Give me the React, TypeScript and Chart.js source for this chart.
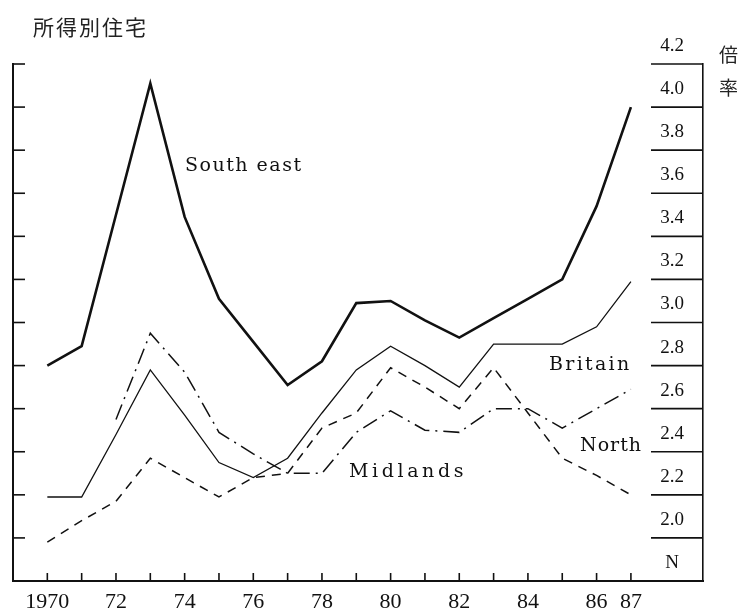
import React, { useEffect, useRef } from 'react';
import { Chart, registerables } from 'chart.js';

Chart.register(...registerables);

// ---- data ----
const years = [1970, 1971, 1972, 1973, 1974, 1975, 1976, 1977, 1978, 1979, 1980, 1981, 1982, 1983, 1984, 1985, 1986, 1987];
const xTickLabels = ['1970', '', '72', '', '74', '', '76', '', '78', '', '80', '', '82', '', '84', '', '86', '87'];
const rightTickLabels = ['N', '2.0', '2.2', '2.4', '2.6', '2.8', '3.0', '3.2', '3.4', '3.6', '3.8', '4.0', '4.2'];

const southEast = [2.80, 2.89, 3.50, 4.11, 3.49, 3.11, 2.91, 2.71, 2.82, 3.09, 3.10, 3.01, 2.93, 3.02, 3.11, 3.20, 3.54, 4.00];
const britain = [2.19, 2.19, 2.48, 2.78, 2.57, 2.35, 2.28, 2.37, 2.58, 2.78, 2.89, 2.80, 2.70, 2.90, 2.90, 2.90, 2.98, 3.19];
const north = [1.98, 2.08, 2.17, 2.37, 2.28, 2.19, 2.28, 2.30, 2.51, 2.58, 2.79, 2.70, 2.60, 2.79, 2.58, 2.37, 2.29, 2.20];
const midlands = [null, null, 2.55, 2.95, 2.77, 2.49, 2.39, 2.30, 2.30, 2.49, 2.59, 2.50, 2.49, 2.60, 2.60, 2.51, 2.60, 2.69];

const INK = '#111';

const toPoints = (vals: (number | null)[]) => years.map((yr, i) => ({ x: yr, y: vals[i] }));

const axisDecor = {
  id: 'axisDecor',
  afterDraw(chart: any) {
    const { ctx, chartArea, scales } = chart;
    const xs = scales.x;
    const yl = scales.y;
    const yr = scales.y2;
    ctx.save();
    ctx.strokeStyle = INK;
    ctx.lineWidth = 1.6;
    const seg = (x1: number, y1: number, x2: number, y2: number) => {
      ctx.beginPath();
      ctx.moveTo(x1, y1);
      ctx.lineTo(x2, y2);
      ctx.stroke();
    };
    yl.ticks.forEach((t: any) => {
      if (t.value > yl.min + 1e-6) {
        const py = yl.getPixelForValue(t.value);
        seg(chartArea.left, py, chartArea.left + 12, py);
      }
    });
    ctx.fillStyle = INK;
    ctx.font = '19px "Liberation Serif", serif';
    ctx.textAlign = 'center';
    ctx.textBaseline = 'middle';
    yr.ticks.forEach((t: any, i: number) => {
      const py = yr.getPixelForValue(t.value);
      if (t.value > yr.min + 1e-6) {
        seg(chartArea.right - 52, py, chartArea.right, py);
      }
      ctx.fillText(rightTickLabels[i] ?? '', chartArea.right - 31, py - 18);
    });
    xs.ticks.forEach((t: any) => {
      const px = xs.getPixelForValue(t.value);
      seg(px, chartArea.bottom, px, chartArea.bottom - 8);
    });
    ctx.restore();
  },
};

const labelStyle = (left: number, cy: number, spacing: number): React.CSSProperties => ({
  position: 'absolute',
  left,
  top: cy - 12,
  height: 24,
  lineHeight: '24px',
  fontFamily: '"DejaVu Serif", serif',
  fontSize: 19,
  letterSpacing: spacing,
  color: INK,
  whiteSpace: 'nowrap',
});

export default function App() {
  const canvasRef = useRef<HTMLCanvasElement | null>(null);

  useEffect(() => {
    if (!canvasRef.current) return;
    const chart = new Chart(canvasRef.current, {
      type: 'line',
      data: {
        datasets: [
          {
            label: 'South east',
            data: toPoints(southEast),
            borderColor: INK,
            borderWidth: 2.6,
            pointRadius: 0,
            tension: 0,
          },
          {
            label: 'Britain',
            data: toPoints(britain),
            borderColor: INK,
            borderWidth: 1.3,
            pointRadius: 0,
            tension: 0,
          },
          {
            label: 'North',
            data: toPoints(north),
            borderColor: INK,
            borderWidth: 1.5,
            borderDash: [9, 7],
            pointRadius: 0,
            tension: 0,
          },
          {
            label: 'Midlands',
            data: toPoints(midlands),
            borderColor: INK,
            borderWidth: 1.5,
            borderDash: [16, 6, 2, 6],
            pointRadius: 0,
            tension: 0,
            spanGaps: false,
          },
        ],
      },
      options: {
        animation: false,
        responsive: false,
        layout: { padding: { left: 13, right: 40, top: 64, bottom: -12 } },
        plugins: { legend: { display: false }, tooltip: { enabled: false }, title: { display: false } },
        scales: {
          x: {
            type: 'linear',
            min: 1969,
            max: 1989.1,
            afterBuildTicks: (scale: any) => {
              scale.ticks = years.map((v) => ({ value: v }));
            },
            grid: { drawOnChartArea: false, drawTicks: false },
            border: { display: true, color: INK, width: 2 },
            ticks: {
              autoSkip: false,
              maxRotation: 0,
              padding: 10,
              color: INK,
              font: { family: '"Liberation Serif", serif', size: 22, lineHeight: 1 },
              callback: (_v: any, i: number) => xTickLabels[i],
            },
          },
          y: {
            position: 'left',
            min: 1.8,
            max: 4.2,
            ticks: { display: false, stepSize: 0.2 },
            grid: { drawOnChartArea: false, drawTicks: false },
            border: { display: true, color: INK, width: 2 },
          },
          y2: {
            position: 'right',
            min: 1.8,
            max: 4.2,
            grid: { drawOnChartArea: false, drawTicks: false },
            border: { display: true, color: INK, width: 1.6 },
            ticks: { display: false, stepSize: 0.2 },
          },
        },
      },
      plugins: [axisDecor],
    } as any);
    return () => chart.destroy();
  }, []);

  return (
    <div style={{ position: 'absolute', left: 0, top: 0, width: 743, height: 611, background: '#fff', overflow: 'hidden' }}>
      <canvas ref={canvasRef} width={743} height={611} style={{ position: 'absolute', left: 0, top: 0 }} />
      <div
        style={{
          position: 'absolute',
          left: 33,
          top: 14,
          fontFamily: '"Noto Sans CJK JP", sans-serif',
          fontSize: 21,
          lineHeight: '24px',
          letterSpacing: 2,
          color: '#222',
        }}
      >
        所得別住宅
      </div>
      <div
        style={{
          position: 'absolute',
          left: 718,
          top: 45,
          writingMode: 'vertical-rl',
          fontFamily: '"Noto Sans CJK JP", sans-serif',
          fontSize: 19,
          lineHeight: '20px',
          letterSpacing: 14,
          color: '#222',
        }}
      >
        倍率
      </div>
      <div style={labelStyle(185, 164, 1.5)}>South east</div>
      <div style={labelStyle(549, 363, 2.3)}>Britain</div>
      <div style={labelStyle(580, 444, 1)}>North</div>
      <div style={labelStyle(349, 470, 3.6)}>Midlands</div>
    </div>
  );
}
